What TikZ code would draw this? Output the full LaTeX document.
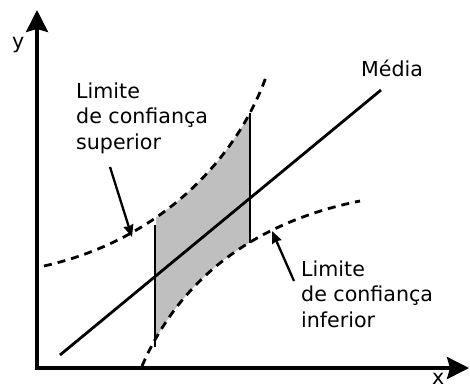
\documentclass[tikz,border=0pt]{standalone}
\usepackage{fontspec}
\setmainfont{DejaVu Sans}
\usetikzlibrary{arrows.meta}
\begin{document}
\begin{tikzpicture}[x=1pt,y=-1pt,
  axis/.style={line width=3.2pt, line join=miter,
    {Stealth[length=22pt,width=22pt,inset=3pt]}-{Stealth[length=22pt,width=22pt,inset=3pt]}},
  band/.style={line width=2.8pt, dash pattern=on 8pt off 6pt},
  solidline/.style={line width=2.8pt},
  pointer/.style={line width=2.3pt, -{Stealth[length=12pt,width=10pt,inset=1pt]}},
  lbl/.style={font=\fontsize{20.6}{25.5}\selectfont, inner sep=0pt, align=left},
  shade/.style={fill=black!25}]
\useasboundingbox (0,0) rectangle (470,389);
% axes
\coordinate (O) at (37,368);
\coordinate (ytip) at (37,10);
\coordinate (xtip) at (469,368);
% band shading
\coordinate (u0) at (44,266);
\coordinate (u1) at (266,77);
\coordinate (l0) at (142,366);
\coordinate (l1) at (360,201);
\begin{scope}
  \clip (156,0) rectangle (249,400);
  \fill[shade] (u0) .. controls (160,240) and (236,160) .. (u1) -- (l1)
    .. controls (260,221) and (182,274) .. (l0) -- cycle;
\end{scope}
\draw[axis] (ytip) -- (O) -- (xtip);
\node[lbl, anchor=base west] (ylab) at (12,48) {y};
\node[lbl, anchor=base west] (xlab) at (432,384) {x};
% mean line
\coordinate (m0) at (60,355);
\coordinate (m1) at (381,90);
\draw[solidline] (m0) -- (m1);
\node[lbl, anchor=base west] (media) at (361,76) {Média};
% confidence curves
\draw[band] (u0) .. controls (160,240) and (236,160) .. (u1);
\draw[band] (l0) .. controls (182,274) and (260,221) .. (l1);
% vertical lines
\coordinate (v1a) at (155,225);
\coordinate (v1b) at (155,347);
\coordinate (v2a) at (250,113);
\coordinate (v2b) at (250,243);
\draw[solidline] (v1a) -- (v1b);
\draw[solidline] (v2a) -- (v2b);
% labels (base anchor = last line)
\node[lbl, anchor=base west] (sup) at (76,149) {Limite\\de confiança\\superior};
\node[lbl, anchor=base west] (inf) at (301,327) {Limite\\de confiança\\inferior};
\coordinate (ps0) at (110,167);
\coordinate (ps1) at (132,237);
\coordinate (pi0) at (294,281);
\coordinate (pi1) at (272,231);
\draw[pointer] (ps0) -- (ps1);
\draw[pointer] (pi0) -- (pi1);
\end{tikzpicture}
\end{document}
